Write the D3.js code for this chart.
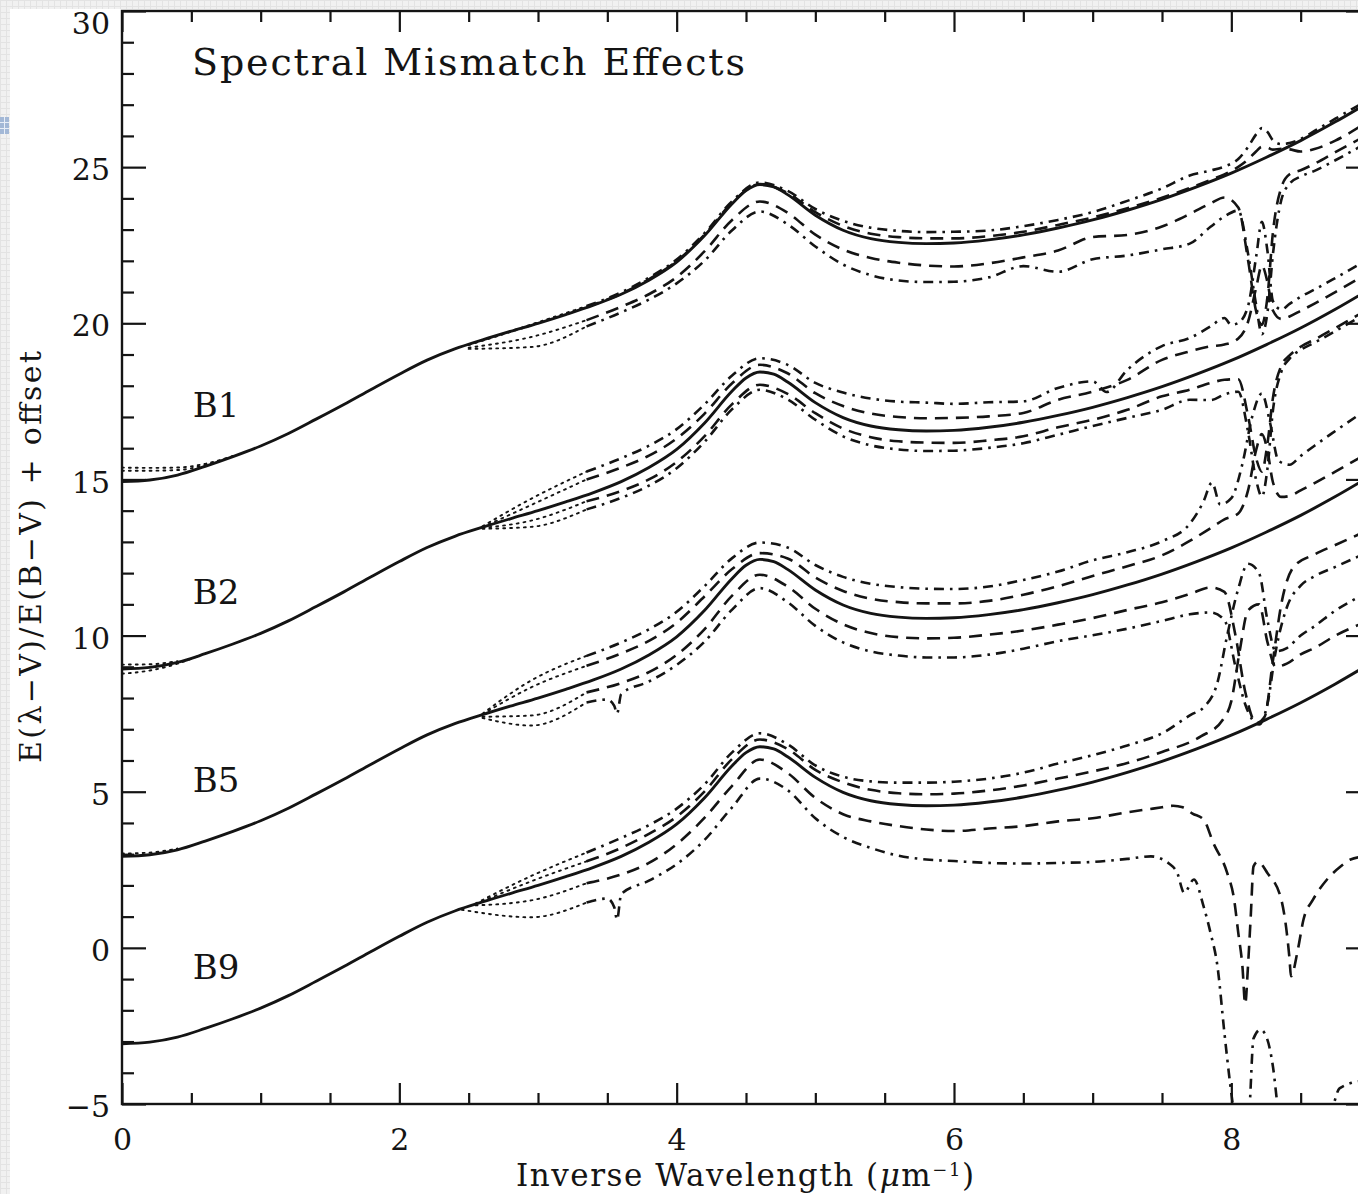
<!DOCTYPE html>
<html>
<head>
<meta charset="utf-8">
<script src="https://cdn.jsdelivr.net/npm/d3@7"></script>
<style>
  body { margin: 0; background: #ffffff; }
  svg { display: block; }
</style>
</head>
<body>
<svg id="chart" width="1358" height="1194"></svg>
<script>
// ---------------------------------------------------------------
// Data: colour excess curves E(lambda-V)/E(B-V) vs inverse wavelength.
// Values are stored without the vertical offset of each group.
// ---------------------------------------------------------------

// Groups (comparison spectral type) and their vertical offsets
const groupNames   = ["B1", "B2", "B5", "B9"];
const groupOffsets = [18, 12, 6, 0];
const labelValues  = [17, 11, 5, -1];

// Axis ticks
const xMajorTicks = [0, 2, 4, 6, 8];
const xMinorTicks = [0.5, 1, 1.5, 2.5, 3, 3.5, 4.5, 5, 5.5, 6.5, 7, 7.5, 8.5];
const yMajorTicks = [-5, 0, 5, 10, 15, 20, 25, 30];
const yMinorTicks = [-4, -3, -2, -1, 1, 2, 3, 4, 6, 7, 8, 9, 11, 12, 13, 14,
                     16, 17, 18, 19, 21, 22, 23, 24, 26, 27, 28, 29];

// Intrinsic extinction curve (solid line), [x, E(l-V)/E(B-V)]
const modelCurve = [[0,-3.07],[0.2,-3.02],[0.4,-2.86],[0.6,-2.58],[0.8,-2.27],[1.0,-1.93],
  [1.2,-1.53],[1.4,-1.07],[1.6,-0.60],[1.8,-0.11],[2.0,0.37],[2.2,0.82],[2.4,1.18],[2.6,1.47],
  [2.8,1.74],[3.0,2.00],[3.2,2.28],[3.4,2.58],[3.6,2.93],[3.8,3.38],[4.0,3.96],[4.2,4.80],
  [4.4,5.83],[4.5,6.25],[4.6,6.44],[4.7,6.37],[4.8,6.12],[5.0,5.46],[5.2,4.98],[5.4,4.71],
  [5.6,4.59],[5.8,4.55],[6.0,4.57],[6.25,4.67],[6.5,4.83],[6.75,5.05],[7.0,5.31],[7.25,5.62],
  [7.5,5.97],[7.75,6.37],[8.0,6.81],[8.25,7.31],[8.5,7.85],[8.75,8.45],[9.0,9.10]];

// ---- B1 mismatched curves (UV) ----
const b1DashDotHigh = [[3.35,2.55],[3.6,2.99],[3.8,3.46],[4.0,4.04],[4.2,4.88],[4.4,5.91],[4.6,6.51],[4.8,6.24],[5.0,5.66],[5.2,5.28],[5.4,5.06],[5.6,4.96],[5.8,4.92],[6.0,4.93],[6.25,4.97],[6.5,5.11],[6.75,5.31],[7.0,5.56],[7.25,5.92],[7.5,6.32],[7.7,6.73],[7.85,6.89],[7.95,7.02],[8.05,7.26],[8.12,7.64],[8.18,8.06],[8.22,8.25],[8.26,8.13],[8.3,7.86],[8.36,7.74],[8.42,7.77],[8.5,7.90],[8.6,8.16],[8.75,8.55],[8.95,9.06]];
const b1DashHigh = [[3.35,2.52],[3.6,2.95],[3.8,3.41],[4.0,3.99],[4.2,4.83],[4.4,5.86],[4.6,6.46],[4.8,6.17],[5.0,5.56],[5.2,5.12],[5.4,4.87],[5.6,4.76],[5.8,4.72],[6.0,4.72],[6.25,4.79],[6.5,4.93],[6.75,5.15],[7.0,5.39],[7.25,5.68],[7.5,6.02],[7.7,6.33],[7.85,6.59],[7.95,6.77],[8.05,7.01],[8.12,7.24],[8.18,7.51],[8.22,7.65],[8.26,7.63],[8.3,7.56],[8.36,7.59],[8.42,7.57],[8.5,7.50],[8.6,7.58],[8.75,7.85],[8.95,8.36]];
const b1DashLow = [[3.35,2.10],[3.6,2.53],[3.8,2.93],[4.0,3.48],[4.2,4.30],[4.4,5.31],[4.6,5.90],[4.8,5.54],[5.0,4.84],[5.2,4.36],[5.4,4.09],[5.6,3.94],[5.8,3.85],[6.0,3.82],[6.25,3.92],[6.5,4.11],[6.75,4.33],[7.0,4.76],[7.25,4.83],[7.5,5.10],[7.7,5.50],[7.85,5.84],[7.95,6.03],[8.05,5.71],[8.12,4.04],[8.18,2.36],[8.22,1.95],[8.26,2.83],[8.3,4.91],[8.36,6.34],[8.42,6.77],[8.5,6.90],[8.6,7.11],[8.75,7.48],[8.95,7.96]];
const b1DashDotLow = [[3.35,1.90],[3.6,2.35],[3.8,2.76],[4.0,3.28],[4.2,4.00],[4.4,4.98],[4.6,5.58],[4.8,5.17],[5.0,4.46],[5.2,3.88],[5.4,3.54],[5.6,3.37],[5.8,3.32],[6.0,3.33],[6.25,3.47],[6.5,3.83],[6.75,3.65],[7.0,4.05],[7.25,4.17],[7.5,4.37],[7.7,4.55],[7.85,5.09],[7.95,5.42],[8.05,5.61],[8.12,4.24],[8.18,2.56],[8.22,1.65],[8.26,2.33],[8.3,4.21],[8.36,5.94],[8.42,6.47],[8.5,6.70],[8.6,6.88],[8.75,7.22],[8.95,7.71]];

// ---- B2 ----
const b2DashDotHigh = [[3.35,3.25],[3.6,3.68],[3.8,4.08],[4.0,4.61],[4.2,5.40],[4.4,6.33],[4.6,6.88],[4.8,6.67],[5.0,6.09],[5.2,5.78],[5.4,5.59],[5.6,5.49],[5.8,5.46],[6.0,5.42],[6.25,5.47],[6.5,5.50],[6.75,5.93],[7.0,6.14],[7.1,5.80],[7.25,6.51],[7.5,7.27],[7.7,7.53],[7.85,7.90],[7.95,8.17],[8.0,7.95],[8.05,8.01],[8.12,8.54],[8.18,10.16],[8.22,11.25],[8.26,10.33],[8.3,8.71],[8.36,8.44],[8.42,8.62],[8.5,8.85],[8.6,9.08],[8.75,9.45],[8.95,9.96]];
const b2DashHigh = [[3.35,3.00],[3.6,3.38],[3.8,3.76],[4.0,4.31],[4.2,5.10],[4.4,6.08],[4.6,6.67],[4.8,6.40],[5.0,5.76],[5.2,5.35],[5.4,5.11],[5.6,5.00],[5.8,4.96],[6.0,4.97],[6.25,5.02],[6.5,5.13],[6.75,5.55],[7.0,5.81],[7.25,6.19],[7.5,6.83],[7.7,7.10],[7.85,7.26],[7.95,7.32],[8.05,7.51],[8.12,8.04],[8.18,9.16],[8.22,9.85],[8.26,9.33],[8.3,8.41],[8.36,8.14],[8.42,8.22],[8.5,8.40],[8.6,8.63],[8.75,9.00],[8.95,9.51]];
const b2DashLow = [[3.35,2.30],[3.6,2.63],[3.8,3.00],[4.0,3.56],[4.2,4.38],[4.4,5.41],[4.6,6.03],[4.8,5.74],[5.0,5.12],[5.2,4.63],[5.4,4.35],[5.6,4.22],[5.8,4.18],[6.0,4.17],[6.25,4.25],[6.5,4.38],[6.75,4.67],[7.0,4.91],[7.25,5.23],[7.5,5.66],[7.7,5.87],[7.85,6.09],[7.95,6.19],[8.05,6.21],[8.12,5.04],[8.18,3.66],[8.22,3.25],[8.26,4.13],[8.3,5.61],[8.36,6.64],[8.42,6.97],[8.5,7.25],[8.6,7.48],[8.75,7.85],[8.95,8.36]];
const b2DashDotLow = [[3.35,2.04],[3.6,2.41],[3.8,2.80],[4.0,3.36],[4.2,4.20],[4.4,5.25],[4.6,5.87],[4.8,5.56],[5.0,4.91],[5.2,4.38],[5.4,4.09],[5.6,3.96],[5.8,3.91],[6.0,3.92],[6.25,4.01],[6.5,4.16],[6.75,4.43],[7.0,4.71],[7.25,4.97],[7.5,5.23],[7.7,5.55],[7.85,5.54],[7.95,5.72],[8.05,5.81],[8.12,4.54],[8.18,2.96],[8.22,2.45],[8.26,3.33],[8.3,5.21],[8.36,6.44],[8.42,6.87],[8.5,7.15],[8.6,7.38],[8.75,7.75],[8.95,8.26]];

// ---- B5 ----
const b5DashDotHigh = [[3.35,3.35],[3.6,3.78],[3.8,4.20],[4.0,4.76],[4.2,5.58],[4.4,6.48],[4.6,6.98],[4.8,6.82],[5.0,6.26],[5.2,5.88],[5.4,5.66],[5.6,5.55],[5.8,5.50],[6.0,5.49],[6.25,5.57],[6.5,5.78],[6.75,6.05],[7.0,6.41],[7.25,6.67],[7.5,7.02],[7.7,7.58],[7.8,8.30],[7.86,8.90],[7.92,8.20],[8.0,8.40],[8.08,9.50],[8.15,11.0],[8.22,11.75],[8.28,10.8],[8.34,9.60],[8.42,9.47],[8.5,9.75],[8.6,10.08],[8.75,10.55],[8.95,11.16]];
const b5DashHigh = [[3.35,3.03],[3.6,3.43],[3.8,3.83],[4.0,4.41],[4.2,5.25],[4.4,6.13],[4.6,6.64],[4.8,6.47],[5.0,5.86],[5.2,5.43],[5.4,5.18],[5.6,5.07],[5.8,5.03],[6.0,5.03],[6.25,5.11],[6.5,5.31],[6.75,5.58],[7.0,5.91],[7.25,6.22],[7.5,6.57],[7.7,7.03],[7.85,7.44],[7.95,7.72],[8.05,7.91],[8.12,8.64],[8.18,9.96],[8.22,10.45],[8.26,9.93],[8.3,8.91],[8.36,8.44],[8.42,8.47],[8.5,8.65],[8.6,8.88],[8.75,9.25],[8.95,9.76]];
const b5DashLow = [[3.35,2.18],[3.6,2.48],[3.8,2.83],[4.0,3.38],[4.2,4.20],[4.4,5.28],[4.6,5.95],[4.8,5.57],[5.0,4.86],[5.2,4.36],[5.4,4.08],[5.6,3.95],[5.8,3.91],[6.0,3.93],[6.25,4.03],[6.5,4.16],[6.75,4.35],[7.0,4.56],[7.25,4.82],[7.5,5.07],[7.7,5.33],[7.85,5.54],[7.95,5.40],[8.03,4.00],[8.1,2.20],[8.18,1.20],[8.24,1.40],[8.3,3.20],[8.36,5.00],[8.45,6.20],[8.6,6.60],[8.75,6.90],[8.95,7.30]];
const b5DashDotLow = [[3.35,1.86],[3.5,1.95],[3.55,1.75],[3.57,1.50],[3.6,2.13],[3.8,2.53],[4.0,3.06],[4.2,3.80],[4.4,4.83],[4.6,5.52],[4.8,5.07],[5.0,4.31],[5.2,3.78],[5.4,3.49],[5.6,3.36],[5.8,3.30],[6.0,3.30],[6.25,3.39],[6.5,3.58],[6.75,3.82],[7.0,4.01],[7.25,4.22],[7.5,4.47],[7.7,4.68],[7.85,4.74],[7.95,4.50],[8.03,3.00],[8.1,1.80],[8.2,1.15],[8.26,1.80],[8.32,3.50],[8.4,4.90],[8.5,5.60],[8.6,5.90],[8.75,6.20],[8.95,6.60]];

// ---- B9 ----
const b9DashDotHigh = [[3.35,3.05],[3.6,3.52],[3.8,3.93],[4.0,4.46],[4.2,5.23],[4.4,6.26],[4.6,6.87],[4.8,6.52],[5.0,5.84],[5.2,5.48],[5.4,5.33],[5.6,5.29],[5.8,5.29],[6.0,5.32],[6.25,5.42],[6.5,5.61],[6.75,5.90],[7.0,6.17],[7.25,6.48],[7.5,6.87],[7.71,7.47],[7.8,7.70],[7.9,8.50],[7.97,10.0],[8.05,11.5],[8.12,12.3],[8.2,12.0],[8.26,10.5],[8.32,9.50],[8.4,9.60],[8.5,10.0],[8.6,10.3],[8.75,10.8],[8.95,11.3]];
const b9DashHigh = [[3.35,2.77],[3.6,3.20],[3.8,3.65],[4.0,4.20],[4.2,5.00],[4.4,6.05],[4.6,6.67],[4.8,6.37],[5.0,5.70],[5.2,5.30],[5.4,5.06],[5.6,4.95],[5.8,4.92],[6.0,4.94],[6.25,5.04],[6.5,5.20],[6.75,5.42],[7.0,5.65],[7.25,5.92],[7.5,6.27],[7.78,6.77],[7.94,7.31],[8.0,7.90],[8.06,9.50],[8.12,10.8],[8.2,11.0],[8.26,9.80],[8.32,9.00],[8.4,9.10],[8.5,9.40],[8.6,9.60],[8.75,10.0],[8.95,10.4]];
const b9DashLow = [[3.35,2.07],[3.6,2.35],[3.8,2.72],[4.0,3.32],[4.2,4.16],[4.4,5.19],[4.6,6.03],[4.8,5.60],[5.0,4.80],[5.2,4.28],[5.4,4.05],[5.6,3.90],[5.8,3.79],[6.0,3.74],[6.25,3.82],[6.5,3.90],[6.75,4.05],[7.0,4.15],[7.25,4.34],[7.5,4.50],[7.58,4.55],[7.65,4.50],[7.72,4.30],[7.8,4.11],[7.87,3.36],[7.97,2.40],[8.02,1.55],[8.05,0.48],[8.08,-0.59],[8.1,-1.80],[8.12,-0.59],[8.14,1.01],[8.16,2.61],[8.19,2.76],[8.26,2.40],[8.36,1.55],[8.4,0.48],[8.42,-0.37],[8.43,-0.91],[8.48,-0.05],[8.52,0.90],[8.59,1.55],[8.69,2.19],[8.79,2.61],[8.86,2.83],[8.95,2.92]];
const b9DashDotLow = [[3.35,1.45],[3.5,1.58],[3.55,1.30],[3.57,0.90],[3.6,1.72],[3.8,2.15],[4.0,2.68],[4.2,3.45],[4.4,4.50],[4.6,5.42],[4.8,5.05],[5.0,4.15],[5.2,3.55],[5.4,3.20],[5.6,2.95],[5.8,2.83],[6.0,2.78],[6.25,2.72],[6.5,2.70],[6.75,2.72],[7.0,2.75],[7.25,2.85],[7.42,2.93],[7.55,2.70],[7.61,2.40],[7.66,1.76],[7.73,2.19],[7.8,1.33],[7.85,0.48],[7.9,-0.59],[7.95,-2.72],[7.99,-4.30],[8.03,-5.60],[8.08,-6.50],[8.13,-5.20],[8.16,-2.90],[8.21,-2.62],[8.26,-2.94],[8.3,-3.80],[8.34,-5.30],[8.45,-7.00],[8.6,-6.50],[8.72,-5.30],[8.78,-4.50],[8.95,-4.25]];

// Optical-to-UV bridges (dotted), one per mismatched curve: high dash-dot, high dash, low dash, low dash-dot
const b1Bridges = [[[2.5,1.31],[2.95,1.96],[3.35,2.55]], [[2.5,1.31],[2.95,1.93],[3.35,2.52]],
                   [[2.5,1.22],[2.95,1.56],[3.35,2.10]], [[2.5,1.18],[2.95,1.24],[3.35,1.90]]];
const b2Bridges = [[[2.6,1.50],[2.95,2.38],[3.35,3.25]], [[2.6,1.47],[2.95,2.18],[3.35,3.00]],
                   [[2.6,1.45],[2.95,1.68],[3.35,2.30]], [[2.6,1.42],[2.95,1.48],[3.35,2.04]]];
const b5Bridges = [[[2.6,1.50],[2.95,2.56],[3.35,3.35]], [[2.6,1.48],[2.95,2.34],[3.35,3.03]],
                   [[2.6,1.40],[2.95,1.44],[3.35,2.18]], [[2.6,1.36],[2.95,1.12],[3.35,1.86]]];
const b9Bridges = [[[2.55,1.42],[2.95,2.30],[3.35,3.05]], [[2.55,1.40],[2.95,2.13],[3.35,2.77]],
                   [[2.55,1.36],[2.95,1.52],[3.35,2.07]], [[2.45,1.22],[2.95,0.98],[3.35,1.45]]];

// Near-infrared dotted departures
const b1InfraRed = [[[0,-2.62],[0.2,-2.63],[0.4,-2.62],[0.6,-2.50],[0.8,-2.25]],
                    [[0,-2.72],[0.2,-2.72],[0.4,-2.70],[0.6,-2.54],[0.8,-2.26]]];
const b2InfraRed = [[[0,-2.93],[0.2,-2.92],[0.4,-2.82]],
                    [[0,-3.22],[0.2,-3.12],[0.4,-2.90],[0.55,-2.66]]];
const b5InfraRed = [[[0,-2.98],[0.2,-2.95],[0.4,-2.82]]];
const b9InfraRed = [];

// ---------------------------------------------------------------
// Assemble per-group series lists
// ---------------------------------------------------------------
const lineKinds = ["dashdot", "dash", "dash", "dashdot"];
const groupSeries = [
  [b1DashDotHigh, b1DashHigh, b1DashLow, b1DashDotLow],
  [b2DashDotHigh, b2DashHigh, b2DashLow, b2DashDotLow],
  [b5DashDotHigh, b5DashHigh, b5DashLow, b5DashDotLow],
  [b9DashDotHigh, b9DashHigh, b9DashLow, b9DashDotLow]
];
const groupBridges = [b1Bridges, b2Bridges, b5Bridges, b9Bridges];
const groupInfraRed = [b1InfraRed, b2InfraRed, b5InfraRed, b9InfraRed];

// ---------------------------------------------------------------
// Drawing
// ---------------------------------------------------------------
const W = 1358, H = 1194;
const svg = d3.select("#chart");
const FONT = "'DejaVu Serif', 'Liberation Serif', serif";
const INK = "#141414";

// faint tiled page border along the top and left edges
const defs = svg.append("defs");
const pat = defs.append("pattern").attr("id", "tile").attr("width", 6).attr("height", 6)
  .attr("patternUnits", "userSpaceOnUse");
pat.append("rect").attr("width", 6).attr("height", 6).attr("fill", "#f1f1f1");
pat.append("path").attr("d", "M0 0.5H6M0.5 0V6").attr("stroke", "#e3e3e3").attr("stroke-width", 1);
svg.append("rect").attr("x", 0).attr("y", 0).attr("width", W).attr("height", 9).attr("fill", "url(#tile)");
svg.append("rect").attr("x", 0).attr("y", 0).attr("width", 10).attr("height", H).attr("fill", "url(#tile)");
// small handle marker on the left edge
svg.append("rect").attr("x", 0).attr("y", 117).attr("width", 9).attr("height", 17).attr("fill", "#a3b8d6");
svg.append("path").attr("d", "M0 122.5H9M0 128.5H9M4.5 117V134").attr("stroke", "#e8eef7").attr("stroke-width", 1);

const x = d3.scaleLinear().domain([0, 9]).range([122, 1370]);
const y = d3.scaleLinear().domain([-5, 30]).range([1104, 11]);

defs.append("clipPath").attr("id", "plotClip")
  .append("rect").attr("x", x(0)).attr("y", y(30)).attr("width", x(9) - x(0)).attr("height", y(-5) - y(30));

const plot = svg.append("g").attr("clip-path", "url(#plotClip)");

const styles = {
  solid:   { width: 2.9, dash: null },
  dash:    { width: 2.6, dash: "13,8" },
  dashdot: { width: 2.6, dash: "10,6,2.6,6" },
  dotted:  { width: 1.9, dash: "1.9,5" }
};

function drawLine(points, offset, kind) {
  const line = d3.line()
    .x(d => x(d[0]))
    .y(d => y(d[1] + offset))
    .curve(d3.curveMonotoneX);
  const st = styles[kind];
  plot.append("path")
    .datum(points)
    .attr("d", line)
    .attr("fill", "none")
    .attr("stroke", INK)
    .attr("stroke-width", st.width)
    .attr("stroke-linejoin", "round")
    .attr("stroke-linecap", kind === "dotted" ? "round" : "butt")
    .attr("stroke-dasharray", st.dash);
}

groupNames.forEach((name, gi) => {
  const off = groupOffsets[gi];
  groupInfraRed[gi].forEach(pts => drawLine(pts, off, "dotted"));
  groupBridges[gi].forEach(pts => drawLine(pts, off, "dotted"));
  groupSeries[gi].forEach((pts, si) => drawLine(pts, off, lineKinds[si]));
  drawLine(modelCurve, off, "solid");
});

// frame
svg.append("rect")
  .attr("x", x(0)).attr("y", y(30))
  .attr("width", x(9) - x(0)).attr("height", y(-5) - y(30))
  .attr("fill", "none").attr("stroke", INK).attr("stroke-width", 2.4);

function styleAxis(g) {
  g.select(".domain").remove();
  g.selectAll(".tick line").attr("stroke", INK).attr("stroke-width", 2.2);
  g.selectAll(".tick text").attr("fill", INK).attr("font-family", FONT).attr("font-size", 30);
}

// left axis
svg.append("g").attr("transform", `translate(${x(0)},0)`)
  .call(d3.axisLeft(y).tickValues(yMajorTicks).tickSizeInner(-24).tickSizeOuter(0).tickPadding(12)
        .tickFormat(d3.format("d")))
  .call(styleAxis)
  .call(g => g.selectAll(".tick text").attr("dy", d => d === 30 ? "0.75em" : "0.42em"));
svg.append("g").attr("transform", `translate(${x(0)},0)`)
  .call(d3.axisLeft(y).tickValues(yMinorTicks).tickSizeInner(-12).tickSizeOuter(0).tickFormat(""))
  .call(styleAxis);

// right axis (ticks only)
svg.append("g").attr("transform", `translate(${x(9)},0)`)
  .call(d3.axisLeft(y).tickValues(yMajorTicks).tickSizeInner(24).tickSizeOuter(0).tickFormat(""))
  .call(styleAxis);
svg.append("g").attr("transform", `translate(${x(9)},0)`)
  .call(d3.axisLeft(y).tickValues(yMinorTicks).tickSizeInner(12).tickSizeOuter(0).tickFormat(""))
  .call(styleAxis);

// bottom axis
svg.append("g").attr("transform", `translate(0,${y(-5)})`)
  .call(d3.axisBottom(x).tickValues(xMajorTicks).tickSizeInner(-21).tickSizeOuter(0).tickPadding(25)
        .tickFormat(d3.format("d")))
  .call(styleAxis);
svg.append("g").attr("transform", `translate(0,${y(-5)})`)
  .call(d3.axisBottom(x).tickValues(xMinorTicks).tickSizeInner(-11).tickSizeOuter(0).tickFormat(""))
  .call(styleAxis);

// top axis (ticks only)
svg.append("g").attr("transform", `translate(0,${y(30)})`)
  .call(d3.axisTop(x).tickValues(xMajorTicks).tickSizeInner(-21).tickSizeOuter(0).tickFormat(""))
  .call(styleAxis);
svg.append("g").attr("transform", `translate(0,${y(30)})`)
  .call(d3.axisTop(x).tickValues(xMinorTicks).tickSizeInner(-11).tickSizeOuter(0).tickFormat(""))
  .call(styleAxis);

// title inside the frame
svg.append("text")
  .attr("x", 192).attr("y", 75)
  .attr("font-family", FONT).attr("font-size", 38).attr("fill", INK)
  .attr("textLength", 553).attr("lengthAdjust", "spacing")
  .text("Spectral Mismatch Effects");

// group labels
groupNames.forEach((name, gi) => {
  svg.append("text")
    .attr("x", x(0.51)).attr("y", y(labelValues[gi]))
    .attr("font-family", FONT).attr("font-size", 34).attr("fill", INK)
    .text(name);
});

// y axis title
svg.append("text")
  .attr("transform", "translate(41,557) rotate(-90)")
  .attr("text-anchor", "middle")
  .attr("font-family", FONT).attr("font-size", 30).attr("fill", INK)
  .attr("textLength", 412).attr("lengthAdjust", "spacing")
  .text("E(\u03bb\u2212V)/E(B\u2212V) + offset");

// x axis title
const xt = svg.append("text")
  .attr("x", 745).attr("y", 1186)
  .attr("text-anchor", "middle")
  .attr("font-family", FONT).attr("font-size", 31).attr("fill", INK)
  .attr("textLength", 458).attr("lengthAdjust", "spacing");
xt.append("tspan").text("Inverse Wavelength (");
xt.append("tspan").attr("font-style", "italic").text("\u03bc");
xt.append("tspan").text("m");
xt.append("tspan").attr("font-size", 18).attr("dy", -10).text("\u22121");
xt.append("tspan").attr("dy", 10).text(")");
</script>
</body>
</html>
